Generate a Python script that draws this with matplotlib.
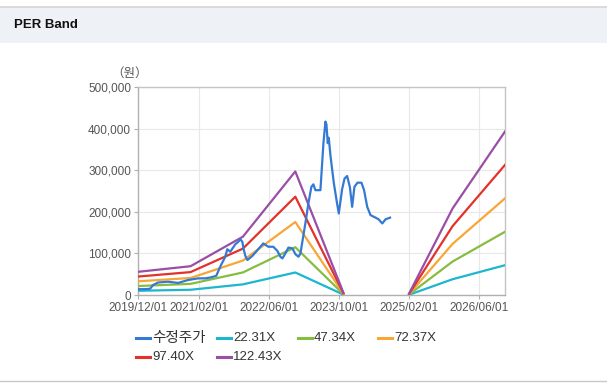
import numpy as np
import pandas as pd
import matplotlib
matplotlib.use("Agg")
import matplotlib.pyplot as plt
import matplotlib.dates as mdates
from matplotlib.lines import Line2D
from matplotlib.patches import Rectangle
from matplotlib.ticker import FuncFormatter

# ---------------- data ----------------
price_dates = ["2019-12-01", "2020-01-19", "2020-02-23", "2020-03-15", "2020-04-19", "2020-06-27",
               "2020-09-05", "2020-11-14", "2021-01-23", "2021-03-13", "2021-04-17", "2021-05-29",
               "2021-06-26", "2021-07-31", "2021-08-14", "2021-09-04", "2021-10-09", "2021-10-30",
               "2021-11-13", "2021-11-27", "2021-12-06", "2021-12-18", "2022-01-01", "2022-02-05",
               "2022-03-18", "2022-04-22", "2022-05-27", "2022-07-01", "2022-07-29", "2022-08-19",
               "2022-09-02", "2022-09-23", "2022-10-14", "2022-11-11", "2022-12-02", "2022-12-23",
               "2023-01-06", "2023-01-19", "2023-02-09", "2023-03-02", "2023-03-23", "2023-04-06",
               "2023-04-20", "2023-05-25", "2023-06-15", "2023-06-29", "2023-07-06", "2023-07-15",
               "2023-07-22", "2023-08-03", "2023-08-26", "2023-09-17", "2023-09-30", "2023-10-23",
               "2023-11-09", "2023-11-27", "2023-12-16", "2024-01-01", "2024-01-17", "2024-02-07",
               "2024-03-06", "2024-03-24", "2024-04-15", "2024-05-08", "2024-06-12", "2024-07-03",
               "2024-07-29", "2024-08-21", "2024-09-21"]
price_values = [14000, 14000, 15000, 24000, 30000, 32000,
                29000, 36000, 40000, 40000, 42000, 46000,
                68000, 92000, 110000, 104000, 122000, 128000,
                134000, 128000, 110000, 94000, 84000, 94000,
                110000, 124000, 116000, 116000, 106000, 92000,
                88000, 100000, 114000, 112000, 98000, 92000,
                100000, 128000, 172000, 220000, 260000, 266000,
                252000, 252000, 365000, 417000, 410000, 365000,
                378000, 335000, 270000, 222000, 196000, 254000,
                280000, 286000, 260000, 212000, 260000, 270000,
                270000, 252000, 212000, 192000, 186000, 182000,
                172000, 182000, 186000]

eps_dates = ["2019-12-01", "2020-12-01", "2021-12-01", "2022-12-01", "2023-11-01",
             "2024-06-01",
             "2025-02-01", "2025-12-01", "2026-12-01"]
eps_values = [455, 565, 1145, 2426, 45,
              np.nan,
              30, 1700, 3210]

per_multiples = [22.31, 47.34, 72.37, 97.40, 122.43]
band_labels = ["22.31X", "47.34X", "72.37X", "97.40X", "122.43X"]
price_label = "수정주가"

x_ticks = ["2019-12-01", "2021-02-01", "2022-06-01", "2023-10-01", "2025-02-01", "2026-06-01"]
x_tick_labels = ["2019/12/01", "2021/02/01", "2022/06/01", "2023/10/01", "2025/02/01", "2026/06/01"]
y_ticks = [0, 100000, 200000, 300000, 400000, 500000]

# ---------------- style ----------------
band_colors = ["#1cb6cf", "#86bd40", "#f7a735", "#e3312b", "#9a4ea6"]
price_color = "#3479d4"
W, H = 607, 391
DPI = 100

plt.rcParams['font.family'] = ['Liberation Sans', 'Noto Sans CJK KR', 'DejaVu Sans']

fig = plt.figure(figsize=(W / DPI, H / DPI), dpi=DPI)
fig.patch.set_facecolor("white")

# header band
fig.patches.append(Rectangle((0, 1 - 43 / H), 1, 36 / H, transform=fig.transFigure,
                             facecolor="#eef2f7", edgecolor="none", zorder=0))
fig.lines.append(Line2D([0, 1], [1 - 6.5 / H, 1 - 6.5 / H], transform=fig.transFigure,
                        color="#d4d4d4", lw=1.2))
fig.lines.append(Line2D([0, 1], [1 - 380.5 / H, 1 - 380.5 / H], transform=fig.transFigure,
                        color="#c8c8c8", lw=1.0))
fig.text(14 / W, 1 - 25 / H, "PER Band", fontsize=9.5, fontweight="bold",
         color="#111111", va="center", ha="left")

ax = fig.add_axes([138 / W, 1 - 295 / H, (505 - 138) / W, (295 - 87) / H])
ax.set_facecolor("white")

pd_dates = pd.to_datetime(price_dates)
ed = pd.to_datetime(eps_dates)
eps = np.array(eps_values, dtype=float)

for mult, col in zip(per_multiples, band_colors):
    ax.plot(ed, eps * mult, color=col, lw=1.6, zorder=3, solid_joinstyle="round")
ax.plot(pd_dates, price_values, color=price_color, lw=1.6, zorder=4, solid_joinstyle="round")

ax.set_xlim(pd.Timestamp("2019-12-01"), pd.Timestamp("2026-12-01"))
ax.set_ylim(0, 500000)
ax.set_xticks(pd.to_datetime(x_ticks))
ax.set_xticklabels(x_tick_labels)
ax.set_yticks(y_ticks)
ax.yaxis.set_major_formatter(FuncFormatter(lambda v, p: f"{int(v):,}"))

ax.grid(True, color="#e8e8e8", lw=0.8, zorder=0)
for s in ax.spines.values():
    s.set_color("#c4c4c4")
    s.set_linewidth(1.0)
ax.spines["left"].set_color("#b0b0b0")
ax.spines["bottom"].set_color("#b0b0b0")
ax.tick_params(axis="both", labelsize=8.5, colors="#b0b0b0", labelcolor="#555555", length=3, width=0.8, pad=2)

fig.text(130 / W, 1 - 73 / H, "（원）", fontsize=9, color="#555555",
         ha="center", va="center", family=["Noto Sans CJK KR", "DejaVu Sans"])

# legend (manual)
legend_items = [(price_label, price_color)] + list(zip(band_labels, band_colors))
cols_x = [136, 217, 298, 378]
rows_y = [338, 357]
for i, (lab, col) in enumerate(legend_items):
    cx = cols_x[i % 4]
    cy = rows_y[i // 4]
    fig.lines.append(Line2D([cx / W, (cx + 14) / W], [1 - cy / H, 1 - cy / H],
                            transform=fig.transFigure, color=col, lw=2.2))
    fs = 10.5 if i == 0 else 9.5
    fig.text((cx + 16) / W, 1 - cy / H, lab, fontsize=fs, color="#333333",
             ha="left", va="center", family=["Liberation Sans", "Noto Sans CJK KR", "DejaVu Sans"])

fig.savefig("out.png", dpi=DPI)
